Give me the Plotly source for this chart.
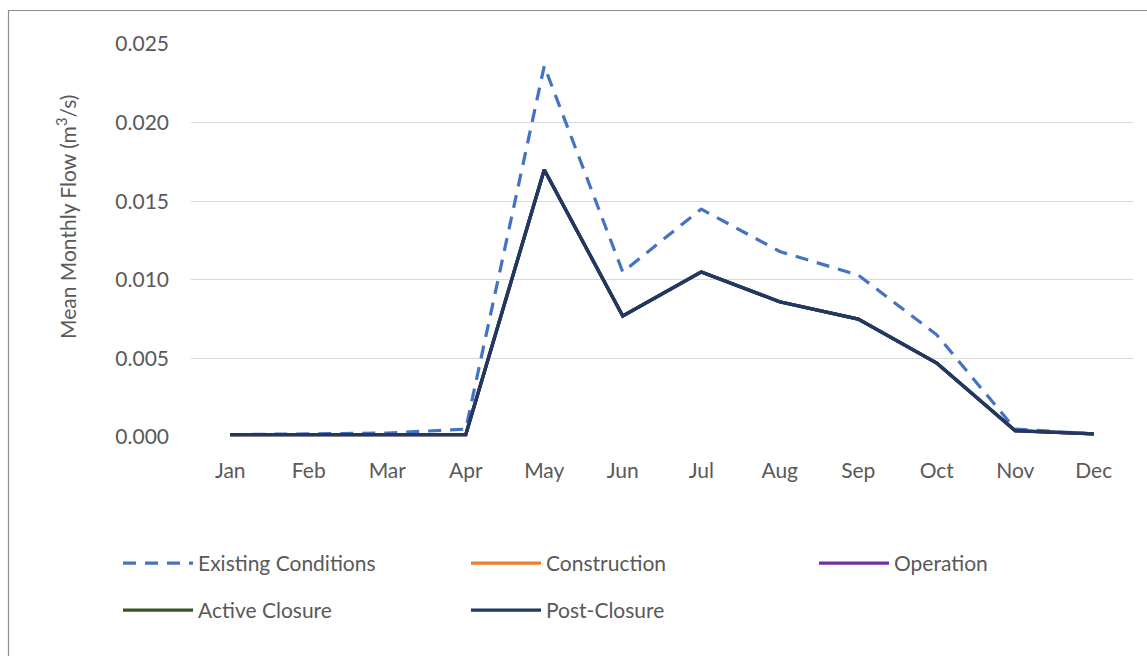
import plotly.graph_objects as go

months = ["Jan", "Feb", "Mar", "Apr", "May", "Jun", "Jul", "Aug", "Sep", "Oct", "Nov", "Dec"]

existing_conditions = [0.00015, 0.00018, 0.00025, 0.0005, 0.0236, 0.0105, 0.0145, 0.0118, 0.0103, 0.0065, 0.0005, 0.0002]
construction = [0.00015, 0.00015, 0.00015, 0.00015, 0.0170, 0.0077, 0.0105, 0.0086, 0.0075, 0.0047, 0.0004, 0.0002]
operation = [0.00015, 0.00015, 0.00015, 0.00015, 0.0170, 0.0077, 0.0105, 0.0086, 0.0075, 0.0047, 0.0004, 0.0002]
active_closure = [0.00015, 0.00015, 0.00015, 0.00015, 0.0170, 0.0077, 0.0105, 0.0086, 0.0075, 0.0047, 0.0004, 0.0002]
post_closure = [0.00015, 0.00015, 0.00015, 0.00015, 0.0170, 0.0077, 0.0105, 0.0086, 0.0075, 0.0047, 0.0004, 0.0002]

y_ticks = [0.0, 0.005, 0.010, 0.015, 0.020, 0.025]
y_tick_text = ["0.000", "0.005", "0.010", "0.015", "0.020", "0.025"]

FONT = "Lato, Carlito, Calibri, sans-serif"
GREY = "#595959"

fig = go.Figure()

# Legend grid: row 1 = Existing, Construction | Operation; row 2 = Active Closure, Post-Closure
fig.add_trace(go.Scatter(x=months, y=existing_conditions, name="Existing Conditions", mode="lines",
                         line=dict(color="#4472C4", width=3.2, dash="13px,9px"), legend="legend"))
fig.add_trace(go.Scatter(x=months, y=construction, name="Construction", mode="lines",
                         line=dict(color="#ED7D31", width=3.2), legend="legend"))
fig.add_trace(go.Scatter(x=months, y=operation, name="Operation", mode="lines",
                         line=dict(color="#7030A0", width=3.2), legend="legend3"))
fig.add_trace(go.Scatter(x=months, y=active_closure, name="Active Closure", mode="lines",
                         line=dict(color="#375623", width=3.2), legend="legend2"))
fig.add_trace(go.Scatter(x=months, y=post_closure, name="Post-Closure", mode="lines",
                         line=dict(color="#203864", width=3.4), legend="legend2"))

L, R, T, B = 191, 14, 44, 219
W, H = 1147, 656
pw, ph = W - L - R, H - T - B


def px_x(px):
    return (px - L) / pw


def px_y(py):
    return (H - B - py) / ph


def legend_style(entry_w):
    return dict(
        orientation="h",
        xanchor="left", yanchor="top",
        entrywidth=entry_w, entrywidthmode="pixels",
        itemwidth=70,
        font=dict(family=FONT, color=GREY, size=21),
        traceorder="normal",
        bgcolor="rgba(0,0,0,0)",
    )


fig.update_layout(
    width=W, height=H,
    margin=dict(l=L, r=R, t=T, b=B, autoexpand=False),
    paper_bgcolor="white", plot_bgcolor="white",
    font=dict(family=FONT, color=GREY, size=20),
    showlegend=True,
    legend=dict(x=px_x(118), y=px_y(543), **legend_style(263)),
    legend3=dict(x=px_x(814), y=px_y(543), **legend_style(140)),
    legend2=dict(x=px_x(118), y=px_y(590), **legend_style(263)),
    xaxis=dict(
        type="category", categoryorder="array", categoryarray=months,
        range=[-0.5, 11.5],
        showgrid=False, zeroline=False, showline=False,
        ticks="", ticklabelstandoff=19,
        tickfont=dict(family=FONT, color=GREY, size=21),
        fixedrange=True,
    ),
    yaxis=dict(
        range=[0, 0.025],
        tickvals=y_ticks, ticktext=y_tick_text,
        showgrid=True, gridcolor="#D9D9D9", gridwidth=1.3,
        zeroline=False, showline=False, ticks="",
        ticklabelstandoff=21,
        tickfont=dict(family=FONT, color=GREY, size=21),
        fixedrange=True,
    ),
    annotations=[dict(
        text="Mean Monthly Flow (m<sup>3</sup>/s)",
        xref="paper", yref="paper",
        x=px_x(66), y=px_y(217), xanchor="center", yanchor="middle",
        textangle=-90, showarrow=False,
        font=dict(family=FONT, color=GREY, size=21),
    )],
    shapes=[dict(
        type="rect", xref="paper", yref="paper",
        x0=px_x(8.5), y0=px_y(700), x1=px_x(1200), y1=px_y(10.5),
        line=dict(color="#8C8C8C", width=1.2), fillcolor="rgba(0,0,0,0)",
        layer="below",
    )],
)

fig.write_html("out.html", include_plotlyjs=True, config={"displayModeBar": False})
